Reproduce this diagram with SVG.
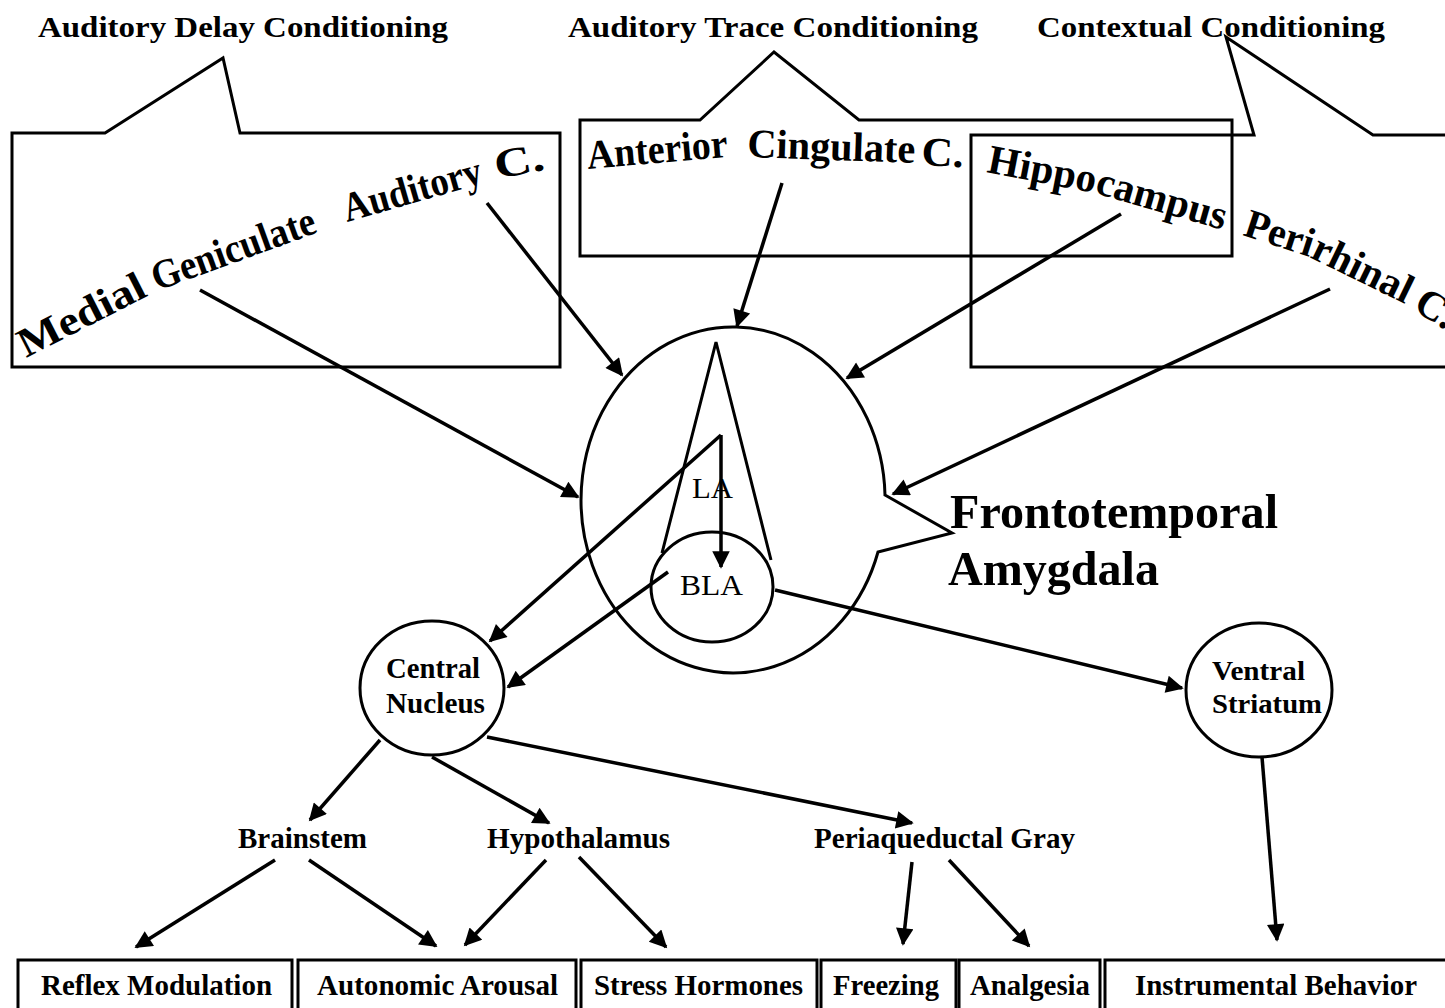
<svg xmlns="http://www.w3.org/2000/svg" width="1445" height="1008" viewBox="0 0 1445 1008">
<defs>
<marker id="arr" viewBox="0 0 10 10" refX="9" refY="5" markerWidth="6.5" markerHeight="5" markerUnits="strokeWidth" orient="auto">
<path d="M0,0 L10,5 L0,10 Z" fill="#000"/>
</marker>
<style>
.t{font-family:"Liberation Serif","Times New Roman",serif;font-weight:bold;fill:#000}
.r{font-family:"Liberation Serif","Times New Roman",serif;font-weight:normal;fill:#000}
.s{fill:none;stroke:#000;stroke-width:3;stroke-linejoin:miter}
.c{fill:none;stroke:#000;stroke-width:3.5;marker-end:url(#arr)}
.b{fill:#fff;stroke:#000;stroke-width:3}
.h{font-size:30px}
.n{font-size:29px}
.w{font-size:41px}
</style>
</defs>
<rect width="1445" height="1008" fill="#fff"/>

<g id="title-delay">
<text class="t h" x="38" y="37" textLength="410" lengthAdjust="spacingAndGlyphs">Auditory Delay Conditioning</text>
</g>
<g id="title-trace">
<text class="t h" x="568" y="37" textLength="410" lengthAdjust="spacingAndGlyphs">Auditory Trace Conditioning</text>
</g>
<g id="title-context">
<text class="t h" x="1037" y="37" textLength="348" lengthAdjust="spacingAndGlyphs">Contextual Conditioning</text>
</g>

<g id="callout-delay">
<path class="s" d="M12,133 L105,133 L223,58 L240,133 L560,133 L560,367 L12,367 Z"/>
<text class="t w" transform="translate(26,358) rotate(-27)" textLength="138" lengthAdjust="spacingAndGlyphs">Medial</text>
<text class="t w" transform="translate(157,291) rotate(-20)" textLength="172" lengthAdjust="spacingAndGlyphs">Geniculate</text>
<text class="t w" transform="translate(347,222) rotate(-16)" textLength="143" lengthAdjust="spacingAndGlyphs">Auditory</text>
<text class="t w" transform="translate(497,179) rotate(-11)" textLength="50" lengthAdjust="spacingAndGlyphs">C.</text>
</g>

<g id="callout-trace">
<path class="s" d="M580,120 L700,120 L774,52 L859,120 L1232,120 L1232,256 L580,256 Z"/>
<text class="t w" transform="translate(588,169) rotate(-5)" textLength="141" lengthAdjust="spacingAndGlyphs">Anterior</text>
<text class="t w" transform="translate(747,157) rotate(2)" textLength="168" lengthAdjust="spacingAndGlyphs">Cingulate</text>
<text class="t w" transform="translate(921,165) rotate(3)" textLength="42" lengthAdjust="spacingAndGlyphs">C.</text>
</g>

<g id="callout-context">
<path class="s" d="M1447,135 L1373,135 L1226,37 L1254,135 L971,135 L971,367 L1447,367"/>
<text class="t w" transform="translate(986,172) rotate(11)" textLength="110" lengthAdjust="spacingAndGlyphs">Hippo</text>
<text class="t w" transform="translate(1094,193) rotate(16)" textLength="134" lengthAdjust="spacingAndGlyphs">campus</text>
<text class="t w" transform="translate(1242,235) rotate(18)" textLength="71" lengthAdjust="spacingAndGlyphs">Peri</text>
<text class="t w" transform="translate(1309,257) rotate(26)" textLength="107" lengthAdjust="spacingAndGlyphs">rhinal</text>
<text class="t w" transform="translate(1412,309) rotate(32)">C.</text>
</g>

<g id="amygdala">
<path class="s" d="M885,495 L952,533 L878,552 A152,173 0 1 1 885,495 Z"/>
<polyline class="s" points="662,553 716,342 771,560"/>
<text class="r" x="692" y="498" font-size="30" textLength="41" lengthAdjust="spacingAndGlyphs">LA</text>
<text class="t" x="950" y="528" font-size="48" textLength="328" lengthAdjust="spacingAndGlyphs">Frontotemporal</text>
<text class="t" x="948" y="585" font-size="48" textLength="211" lengthAdjust="spacingAndGlyphs">Amygdala</text>
</g>

<g id="bla">
<ellipse class="s" cx="712" cy="587" rx="61" ry="55"/>
<text class="r" x="680" y="595" font-size="30" textLength="63" lengthAdjust="spacingAndGlyphs">BLA</text>
</g>

<g id="central-nucleus">
<ellipse class="s" cx="432" cy="688" rx="72" ry="67"/>
<text class="t n" x="386" y="678" textLength="94" lengthAdjust="spacingAndGlyphs">Central</text>
<text class="t n" x="386" y="713" textLength="99" lengthAdjust="spacingAndGlyphs">Nucleus</text>
</g>

<g id="ventral-striatum">
<ellipse class="s" cx="1259" cy="690" rx="73" ry="67"/>
<text class="t" x="1212" y="680" font-size="28" textLength="93" lengthAdjust="spacingAndGlyphs">Ventral</text>
<text class="t" x="1212" y="713" font-size="28" textLength="110" lengthAdjust="spacingAndGlyphs">Striatum</text>
</g>

<g id="brainstem">
<text class="t n" x="238" y="848" textLength="129" lengthAdjust="spacingAndGlyphs">Brainstem</text>
</g>
<g id="hypothalamus">
<text class="t n" x="487" y="848" textLength="183" lengthAdjust="spacingAndGlyphs">Hypothalamus</text>
</g>
<g id="pag">
<text class="t n" x="814" y="848" textLength="261" lengthAdjust="spacingAndGlyphs">Periaqueductal Gray</text>
</g>

<g id="reflex-modulation">
<rect class="b" x="18" y="960" width="274" height="60"/>
<text class="t n" x="41" y="995" textLength="231" lengthAdjust="spacingAndGlyphs">Reflex Modulation</text>
</g>
<g id="autonomic-arousal">
<rect class="b" x="298" y="960" width="278" height="60"/>
<text class="t n" x="317" y="995" textLength="241" lengthAdjust="spacingAndGlyphs">Autonomic Arousal</text>
</g>
<g id="stress-hormones">
<rect class="b" x="581" y="960" width="236" height="60"/>
<text class="t n" x="594" y="995" textLength="209" lengthAdjust="spacingAndGlyphs">Stress Hormones</text>
</g>
<g id="freezing">
<rect class="b" x="821" y="960" width="135" height="60"/>
<text class="t n" x="833" y="995" textLength="106" lengthAdjust="spacingAndGlyphs">Freezing</text>
</g>
<g id="analgesia">
<rect class="b" x="959" y="960" width="141" height="60"/>
<text class="t n" x="970" y="995" textLength="120" lengthAdjust="spacingAndGlyphs">Analgesia</text>
</g>
<g id="instrumental-behavior">
<rect class="b" x="1105" y="960" width="350" height="60"/>
<text class="t n" x="1135" y="995" textLength="282" lengthAdjust="spacingAndGlyphs">Instrumental Behavior</text>
</g>

<g id="connectors">
<line class="c" x1="200" y1="290" x2="578" y2="497"/>
<line class="c" x1="487" y1="203" x2="622" y2="375"/>
<line class="c" x1="782" y1="183" x2="737" y2="326"/>
<line class="c" x1="1121" y1="214" x2="847" y2="378"/>
<line class="c" x1="1330" y1="289" x2="893" y2="494"/>
<line class="c" x1="721" y1="435" x2="721" y2="567"/>
<line class="c" x1="721" y1="435" x2="490" y2="641"/>
<line class="c" x1="668" y1="572" x2="508" y2="687"/>
<line class="c" x1="775" y1="590" x2="1182" y2="688"/>
<line class="c" x1="380" y1="740" x2="310" y2="820"/>
<line class="c" x1="432" y1="757" x2="549" y2="823"/>
<line class="c" x1="487" y1="737" x2="912" y2="823"/>
<line class="c" x1="275" y1="860" x2="136" y2="947"/>
<line class="c" x1="309" y1="860" x2="436" y2="946"/>
<line class="c" x1="546" y1="860" x2="465" y2="945"/>
<line class="c" x1="579" y1="857" x2="666" y2="947"/>
<line class="c" x1="912" y1="862" x2="903" y2="944"/>
<line class="c" x1="949" y1="860" x2="1029" y2="946"/>
<line class="c" x1="1262" y1="757" x2="1277" y2="940"/>
</g>
</svg>
